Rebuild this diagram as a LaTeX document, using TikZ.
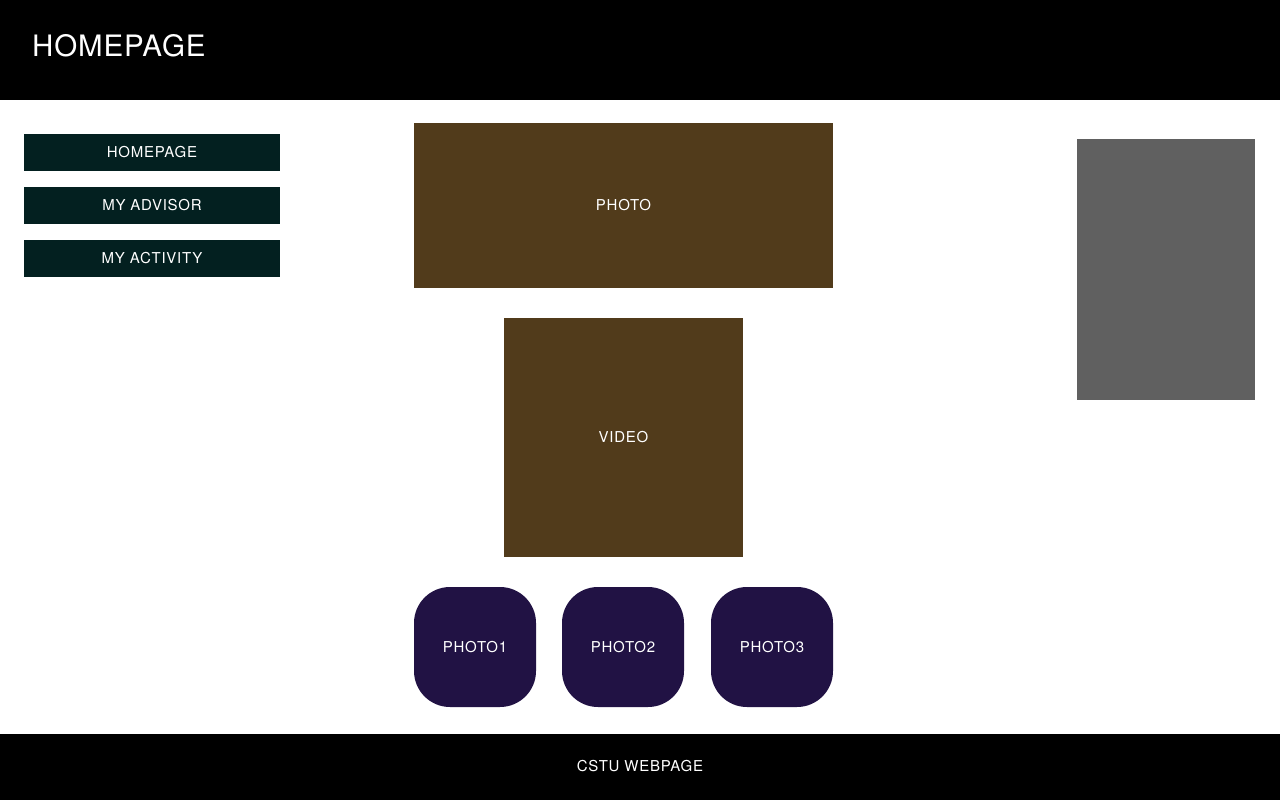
\documentclass[tikz,border=0pt]{standalone}
\usepackage{fontspec}
\setmainfont[LetterSpace=5]{TeX Gyre Heros}
\newfontfamily\titlefont[LetterSpace=3]{TeX Gyre Heros}
\begin{document}
\begin{tikzpicture}[x=1pt,y=-1pt,
  box/.style={draw=none,inner sep=0pt,text=white,text depth=0pt},
  navbtn/.style={fill=navc,minimum width=256pt,minimum height=37pt,box,font=\fontsize{15}{18}\selectfont},
  media/.style={fill=mediac,box,font=\fontsize{15}{18}\selectfont},
  thumb/.style={fill=thumbc,box,rounded corners=36pt,minimum width=122pt,minimum height=120pt,font=\fontsize{15}{18}\selectfont}]
\definecolor{navc}{RGB}{3,32,32}
\definecolor{mediac}{RGB}{81,59,27}
\definecolor{thumbc}{RGB}{33,18,68}
\definecolor{sidec}{RGB}{96,96,96}
\useasboundingbox (0,0) rectangle (1280,800);
\fill[white] (0,0) rectangle (1280,800);
% header
\fill[black] (0,0) rectangle (1280,100);
\node[box,anchor=base west,font=\titlefont\fontsize{29.5}{36}\selectfont] (title) at (32,57) {HOMEPAGE};
% footer
\fill[black] (0,734) rectangle (1280,800);
\node[box,font=\fontsize{15}{18}\selectfont] (foot) at (640,765.5) {CSTU WEBPAGE};
% nav buttons
\node[navbtn] (b1) at (152,152.5) {};
\node[box,font=\fontsize{15}{18}\selectfont] (t1) at (152,151.5) {HOMEPAGE};
\node[navbtn] (b2) at (152,205.5) {};
\node[box,font=\fontsize{15}{18}\selectfont] (t2) at (152,204.5) {MY ADVISOR};
\node[navbtn] (b3) at (152,258.5) {};
\node[box,font=\fontsize{15}{18}\selectfont] (t3) at (152,257.5) {MY ACTIVITY};
% media
\node[media,minimum width=419pt,minimum height=165pt] (photo) at (623.5,205.5) {};
\node[box,font=\fontsize{15}{18}\selectfont] (tphoto) at (623.5,204.5) {PHOTO};
\node[media,minimum width=239pt,minimum height=239pt] (video) at (623.5,437.5) {};
\node[box,font=\fontsize{15}{18}\selectfont] (tvideo) at (623.5,437) {VIDEO};
% side panel
\node[fill=sidec,inner sep=0pt,minimum width=178pt,minimum height=261pt] (side) at (1166,269.5) {};
% thumbnails
\node[thumb] (p1) at (475,647) {PHOTO1};
\node[thumb] (p2) at (623,647) {PHOTO2};
\node[thumb] (p3) at (772,647) {PHOTO3};
\end{tikzpicture}
\end{document}
